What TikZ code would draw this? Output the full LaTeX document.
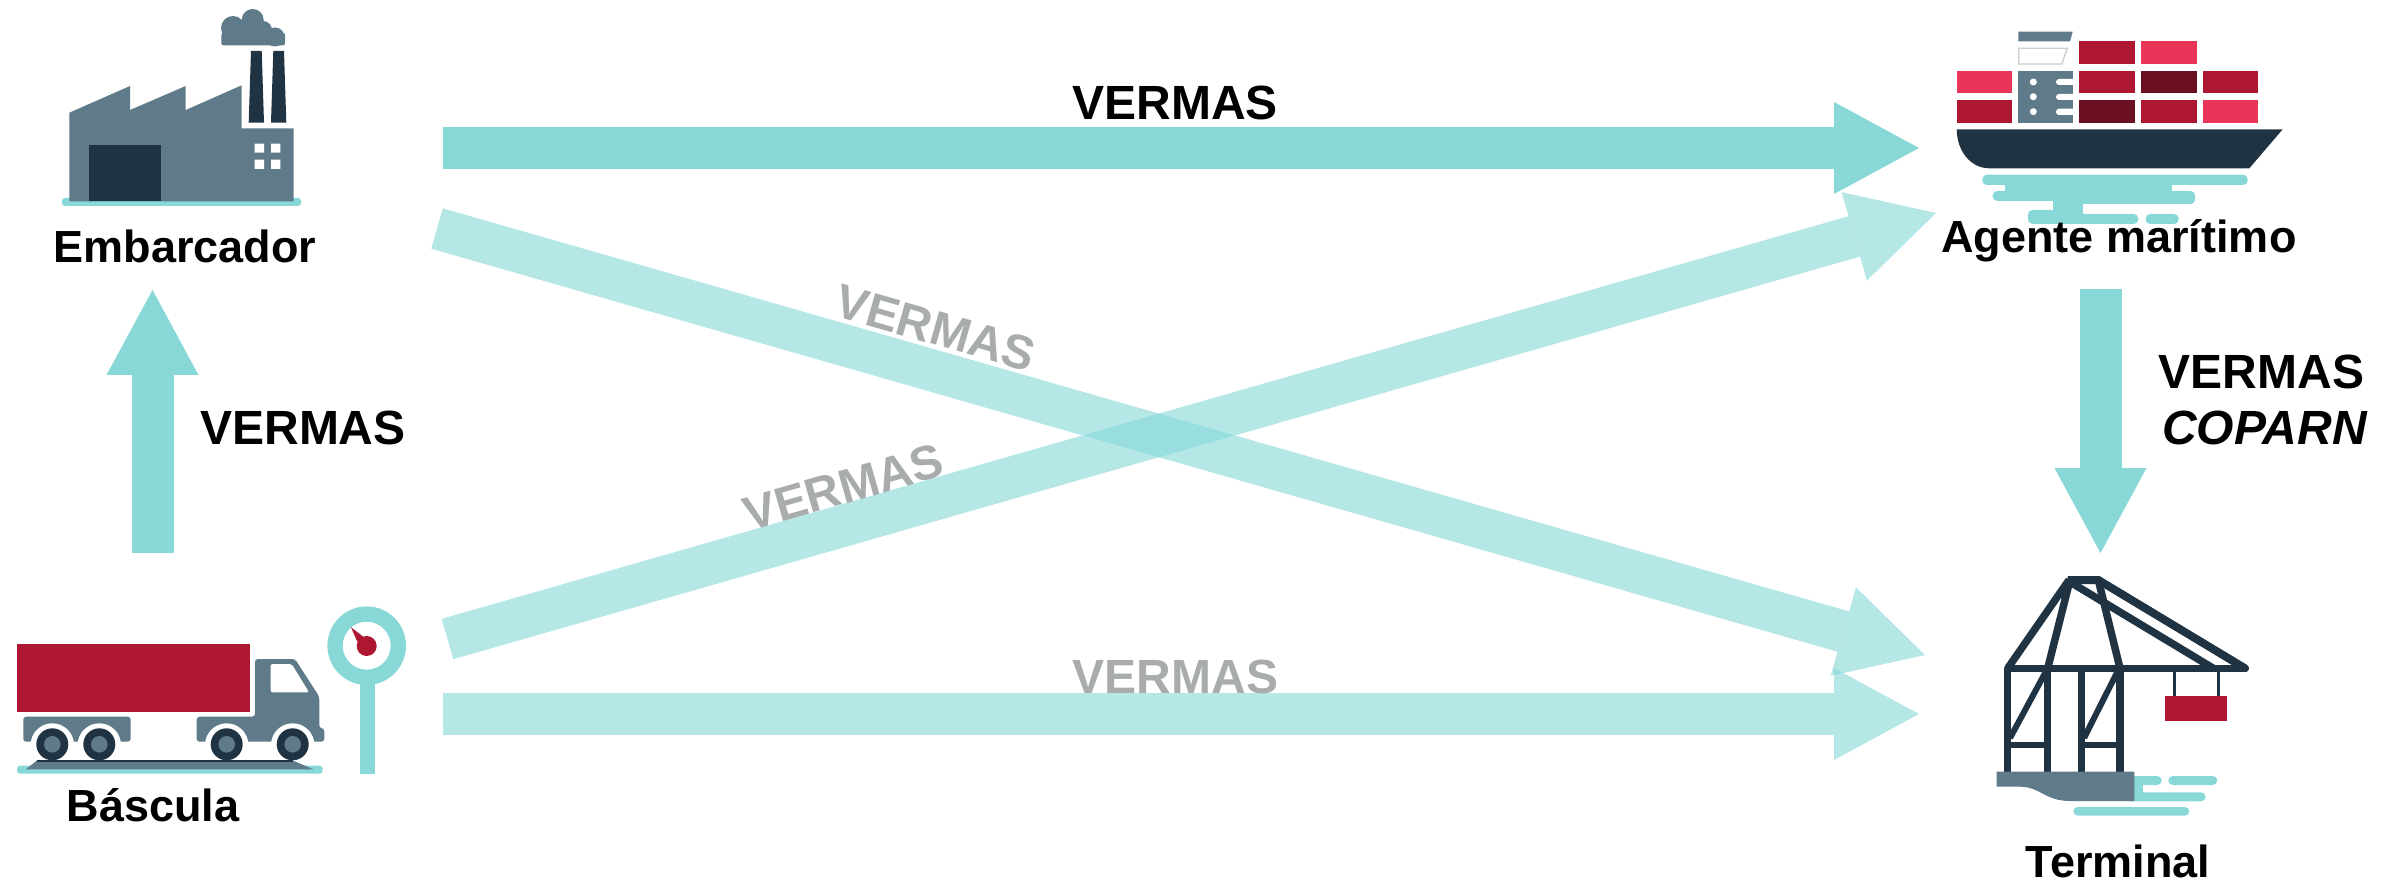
\documentclass[tikz,border=0pt]{standalone}
\usepackage{fontspec}
\setmainfont{Liberation Sans}
\usetikzlibrary{arrows.meta}
\definecolor{teal1}{HTML}{88D8D8}
\definecolor{slate}{HTML}{5F7A89}
\definecolor{navy}{HTML}{203342}
\definecolor{crim}{HTML}{AE1732}
\definecolor{pinkc}{HTML}{E93558}
\definecolor{maroon}{HTML}{6B1020}
\definecolor{greytx}{HTML}{A8ACAB}
\tikzset{
  x=1pt,y=-1pt,
  flow/.style={line width=42pt,line cap=butt,draw=teal1,
    -{Triangle[length=85pt,width=92pt,line width=0pt,sep=0pt]}},
  bigtxt/.style={font=\fontsize{48}{58}\selectfont\bfseries,anchor=base,inner sep=0pt,text=black},
  lbl/.style={font=\fontsize{45}{54}\selectfont\bfseries,anchor=base,inner sep=0pt,text=black},
  greytxt/.style={bigtxt,text=greytx},
  sl/.style={fill=slate},
  nv/.style={fill=navy},
  tl/.style={fill=teal1,rounded corners=4.5pt},
  bm/.style={draw=navy,line width=7.5pt,line cap=round},
}
\begin{document}
\begin{tikzpicture}
\useasboundingbox (0,0) rectangle (2386,882);
% --- connector end points
\coordinate (fromEmb) at (443,148);
\coordinate (toShip) at (1919,148);
\coordinate (fromScaleUp) at (447.5,639);
\coordinate (toShipUp) at (1936,213);
\coordinate (fromEmbDn) at (437,228.5);
\coordinate (toTermDn) at (1925,655);
\coordinate (fromScale) at (443,714);
\coordinate (toTerm) at (1919,714);
\coordinate (fromTruck) at (152.5,553);
\coordinate (toFactory) at (152.5,290);
\coordinate (fromAgent) at (2100.5,289);
\coordinate (toTerminal) at (2100.5,553);
% --- arrows
\draw[flow] (fromEmb) -- (toShip);
\draw[flow] (fromTruck) -- (toFactory);
\draw[flow] (fromAgent) -- (toTerminal);
\begin{scope}[transparency group,opacity=.62]\draw[flow] (fromScaleUp) -- (toShipUp);\end{scope}
\begin{scope}[transparency group,opacity=.62]\draw[flow] (fromEmbDn) -- (toTermDn);\end{scope}
\begin{scope}[transparency group,opacity=.62]\draw[flow] (fromScale) -- (toTerm);\end{scope}
% --- arrow labels
\node[bigtxt] (t1) at (1175,120) {VERMAS};
\node[bigtxt] (t2) at (303,445) {VERMAS};
\node[bigtxt] (t3) at (2261.5,389) {VERMAS};
\node[font=\fontsize{48}{58}\selectfont\bfseries\itshape,anchor=base,inner sep=0pt] (t4) at (2264.5,445) {COPARN};
\node[greytxt] (t5) at (1175.5,693) {VERMAS};
\node[greytxt,rotate=16] (t6) at (848,503) {VERMAS};
\node[greytxt,rotate=-16] (t7) at (931,344) {VERMAS};
% --- factory
\fill[tl,rounded corners=3pt] (62,198) rectangle (301,206);
\fill[sl] (69.3,112.7)--(130,86)--(130,110)--(185.7,86)--(185.7,110)--(241.7,85.3)--(241.7,128.3)--(293.7,128.3)--(293.7,201.3)--(69.3,201.3)--cycle;
\fill[nv] (88.7,144.7) rectangle (160.7,201.3);
\fill[white] (254.7,143.7) rectangle (264,152.7) (271,143.7) rectangle (280.3,152.7) (254.7,159.7) rectangle (264,169) (271,159.7) rectangle (280.3,169);
\fill[nv] (251,51)--(261.7,51)--(264,122.7)--(248.7,122.7)--cycle;
\fill[nv] (273.3,51)--(284,51)--(286.3,122.7)--(271,122.7)--cycle;
\fill[sl] (233,28) circle (12) (252.7,20) circle (11) (263,30) circle (9) (275,37) circle (9.5);
\fill[sl,rounded corners=2pt] (221.3,33) rectangle (285,45.3);
\fill[sl] (233,25) rectangle (262,36);
% --- truck
\fill[crim] (17,644) rectangle (250,712.3);
\fill[sl,rounded corners=3pt] (196.7,716.7)--(255,716.7)--(255,659)--(295,659)--(319.3,696.7)--(319.3,728.3)--(324.3,728.3)--(324.3,741.7)--(196.7,741.7)--cycle;
\fill[sl,rounded corners=3pt] (23.3,716.7) rectangle (130.7,741.7);
\fill[white] (226.7,745) circle (21.7) (292.7,745) circle (21.7) (52.3,745) circle (21.7) (99.3,745) circle (21.7);
\fill[white,rounded corners=2pt] (270.7,664)--(291.7,664)--(309,692.3)--(270.7,692.3)--cycle;
\foreach \wx in {52.3,99.3,226.7,292.7}{
  \fill[navy] (\wx,744.3) circle (16);
  \fill[slate] (\wx,744.3) circle (8.3);
}
\fill[tl,rounded corners=3pt] (17,765.7) rectangle (322.7,773.7);
\fill[sl] (36.7,760.7)--(293.3,760.7)--(313.3,769.3)--(26,769.3)--cycle;
\fill[nv] (36.7,759.5) rectangle (293.3,761.5);
% --- scale
\fill[teal1] (360,683) rectangle (375,773.7);
\fill[teal1,even odd rule] (366.7,645.7) circle (39.3) circle (24);
\fill[crim] (366.7,646) circle (10);
\fill[crim] (351,627.3)--(357.3,641.7)--(363.3,636.7)--cycle;
% --- ship
\foreach \cx/\cy/\cc in {2079/41.3/crim,2141/41.3/pinkc,
   1956.7/70.7/pinkc,2079/70.7/crim,2141/70.7/maroon,2202.7/70.7/crim,
   1956.7/100/crim,2079/100/maroon,2141/100/crim,2202.7/100/pinkc}{
  \fill[\cc] (\cx,\cy) rectangle ++(55.5,22.8);
}
\fill[sl] (2018.3,70.7) rectangle (2072.7,123);
\fill[white] (2033.3,82) circle (3.5) (2033.3,96.7) circle (3.5) (2033.3,111.7) circle (3.5);
\fill[white,rounded corners=3pt] (2056,79) rectangle (2078,85) (2056,94) rectangle (2078,100) (2056,108.7) rectangle (2078,115);
\fill[white] (2072.7,70) rectangle (2078.5,124);
\fill[sl] (2018.3,31.7)--(2072.7,31.7)--(2070,41.3)--(2018.3,41.3)--cycle;
\draw[draw=black!20,line width=1.3pt] (2018.8,48.3)--(2067.2,48.3)--(2061.8,64)--(2018.8,64)--cycle;
\fill[nv] (1956.7,129.3)--(2282.7,129.3)--(2249.3,168.3)--(1989.3,168.3).. controls (1970,168.3) and (1956.7,150) .. (1956.7,129.3)--cycle;
\fill[tl] (1982.3,174.7) rectangle (2247.7,185);
\fill[teal1] (2005,183) rectangle (2172,193);
\fill[tl] (1992.7,191) rectangle (2075,201);
\fill[tl] (2060,191) rectangle (2195,204);
\fill[tl] (2150,194) rectangle (2195,204);
\fill[tl] (2028,210) rectangle (2060,224);
\fill[teal1] (2053,199) rectangle (2083,224);
\fill[tl] (2070,214) rectangle (2138.3,224);
\fill[tl] (2145.7,214) rectangle (2178.7,224);
% --- crane
\draw[bm] (2007.7,668.3)--(2245,668.3);
\draw[bm,line cap=butt] (2007.7,668.3)--(2007.7,771.7) (2047.7,668.3)--(2047.7,771.7) (2081.7,668.3)--(2081.7,771.7) (2120,668.3)--(2120,771.7);
\fill[nv] (2068,576)--(2100,576)--(2104,584)--(2066,584)--cycle;
\draw[bm,line cap=butt] (2007.7,668.3)--(2069,580) (2047.7,668.3)--(2070,580) (2120,668.3)--(2098.3,580);
\draw[bm,line width=8pt] (2098.3,580)--(2245,668.3);
\draw[bm,line cap=butt] (2071.7,583)--(2213.3,668.3);
\draw[bm,line cap=butt,line width=6pt] (2046.7,670)--(2010,738) (2118.3,670)--(2084,738);
\draw[bm,line cap=butt,line width=6.5pt] (2007.7,745)--(2047.7,745) (2081.7,745)--(2120,745);
\draw[bm,line cap=butt,line width=3pt] (2174,671.7)--(2174,696) (2218.3,671.7)--(2218.3,696);
\fill[crim] (2165,696) rectangle (2227.3,721.3);
\fill[tl] (2125,776) rectangle (2161.7,785);
\fill[tl] (2168.3,776) rectangle (2217.3,785);
\fill[tl] (2125,792.3) rectangle (2205.7,801.3);
\fill[teal1] (2130,780) rectangle (2142.7,796);
\fill[tl] (2073.3,807) rectangle (2189.3,815.7);
\fill[sl] (1996.7,771.7)--(2134.3,771.7)--(2134.3,801)--(2070,801).. controls (2045,801) and (2040,786.7) .. (2020,786.7)--(1996.7,786.7)--cycle;
% --- icon labels
\node[lbl] (embarcador) at (185,263) {Embarcador};
\node[lbl] (bascula) at (153,821) {Báscula};
\node[lbl] (agente) at (2119,253) {Agente marítimo};
\node[lbl] (terminal) at (2118,877) {Terminal};
\end{tikzpicture}
\end{document}
